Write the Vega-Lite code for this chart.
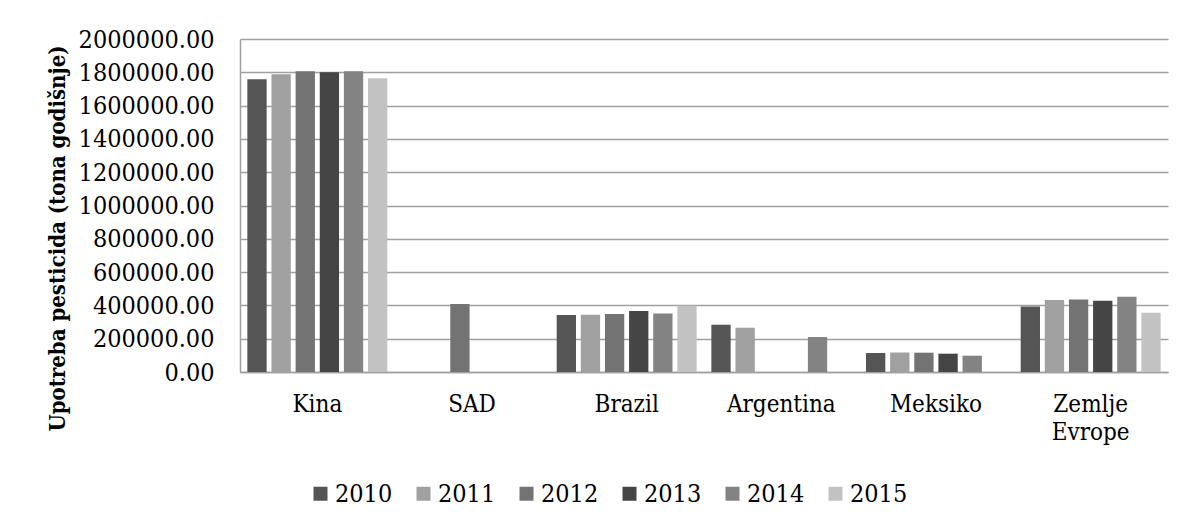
{
  "$schema": "https://vega.github.io/schema/vega-lite/v6.json",
  "width": 928,
  "height": 333,
  "autosize": {"type": "none"},
  "padding": {"left": 240, "top": 39, "right": 18, "bottom": 153},
  "background": "white",
  "data": {
    "values": [
      {"zemlja": "Kina", "godina": "2010", "vrednost": 1758000},
      {"zemlja": "Kina", "godina": "2011", "vrednost": 1788000},
      {"zemlja": "Kina", "godina": "2012", "vrednost": 1806000},
      {"zemlja": "Kina", "godina": "2013", "vrednost": 1800000},
      {"zemlja": "Kina", "godina": "2014", "vrednost": 1806000},
      {"zemlja": "Kina", "godina": "2015", "vrednost": 1764000},
      {"zemlja": "SAD", "godina": "2012", "vrednost": 408000},
      {"zemlja": "Brazil", "godina": "2010", "vrednost": 342000},
      {"zemlja": "Brazil", "godina": "2011", "vrednost": 344000},
      {"zemlja": "Brazil", "godina": "2012", "vrednost": 348000},
      {"zemlja": "Brazil", "godina": "2013", "vrednost": 366000},
      {"zemlja": "Brazil", "godina": "2014", "vrednost": 352000},
      {"zemlja": "Brazil", "godina": "2015", "vrednost": 398000},
      {"zemlja": "Argentina", "godina": "2010", "vrednost": 284000},
      {"zemlja": "Argentina", "godina": "2011", "vrednost": 266000},
      {"zemlja": "Argentina", "godina": "2014", "vrednost": 210000},
      {"zemlja": "Meksiko", "godina": "2010", "vrednost": 114000},
      {"zemlja": "Meksiko", "godina": "2011", "vrednost": 117000},
      {"zemlja": "Meksiko", "godina": "2012", "vrednost": 116000},
      {"zemlja": "Meksiko", "godina": "2013", "vrednost": 110000},
      {"zemlja": "Meksiko", "godina": "2014", "vrednost": 98000},
      {"zemlja": "Zemlje Evrope", "godina": "2010", "vrednost": 394000},
      {"zemlja": "Zemlje Evrope", "godina": "2011", "vrednost": 432000},
      {"zemlja": "Zemlje Evrope", "godina": "2012", "vrednost": 436000},
      {"zemlja": "Zemlje Evrope", "godina": "2013", "vrednost": 428000},
      {"zemlja": "Zemlje Evrope", "godina": "2014", "vrednost": 452000},
      {"zemlja": "Zemlje Evrope", "godina": "2015", "vrednost": 356000}
    ]
  },
  "mark": {"type": "bar"},
  "encoding": {
    "x": {
      "field": "zemlja",
      "type": "nominal",
      "sort": ["Kina", "SAD", "Brazil", "Argentina", "Meksiko", "Zemlje Evrope"],
      "scale": {"paddingInner": 0.095, "paddingOuter": 0.0475},
      "axis": {
        "title": null,
        "labelAngle": 0,
        "ticks": false,
        "grid": false,
        "domain": true,
        "domainColor": "#a0a0a0",
        "domainWidth": 1.5,
        "labelFontSize": 24,
        "labelColor": "#000000",
        "labelPadding": 20,
        "labelBaseline": "top",
        "labelLineHeight": 28,
        "labelOverlap": false,
        "labelExpr": "datum.label == 'Zemlje Evrope' ? ['Zemlje', 'Evrope'] : datum.label"
      }
    },
    "xOffset": {
      "field": "godina",
      "type": "nominal",
      "sort": ["2010", "2011", "2012", "2013", "2014", "2015"],
      "scale": {"paddingInner": 0.2, "paddingOuter": 0}
    },
    "y": {
      "field": "vrednost",
      "type": "quantitative",
      "scale": {"domain": [0, 2000000], "nice": false},
      "axis": {
        "values": [0, 200000, 400000, 600000, 800000, 1000000, 1200000, 1400000, 1600000, 1800000, 2000000],
        "format": ".2f",
        "ticks": false,
        "domain": true,
        "domainColor": "#a0a0a0",
        "domainWidth": 1.5,
        "grid": true,
        "gridColor": "#a0a0a0",
        "gridWidth": 1.5,
        "labelFontSize": 25,
        "labelColor": "#000000",
        "labelPadding": 26,
        "labelOverlap": false,
        "labelFlush": false,
        "title": "Upotreba pesticida (tona godišnje)",
        "titleFontSize": 22,
        "titleFontWeight": "bold",
        "titleColor": "#000000",
        "titleAngle": -90,
        "titleX": -183,
        "titleY": 199,
        "titleAlign": "center",
        "titleBaseline": "middle"
      }
    },
    "color": {
      "field": "godina",
      "type": "nominal",
      "scale": {
        "domain": ["2010", "2011", "2012", "2013", "2014", "2015"],
        "range": ["#555555", "#a0a0a0", "#737373", "#454545", "#838383", "#c2c2c2"]
      },
      "legend": {
        "orient": "none",
        "direction": "horizontal",
        "legendX": 68,
        "legendY": 442,
        "title": null,
        "symbolType": "square",
        "symbolSize": 196,
        "symbolStrokeWidth": 0,
        "labelFontSize": 25,
        "labelColor": "#000000",
        "labelOffset": 2,
        "columnPadding": 18
      }
    }
  },
  "config": {
    "view": {"stroke": null},
    "font": "DejaVu Serif Condensed"
  }
}
